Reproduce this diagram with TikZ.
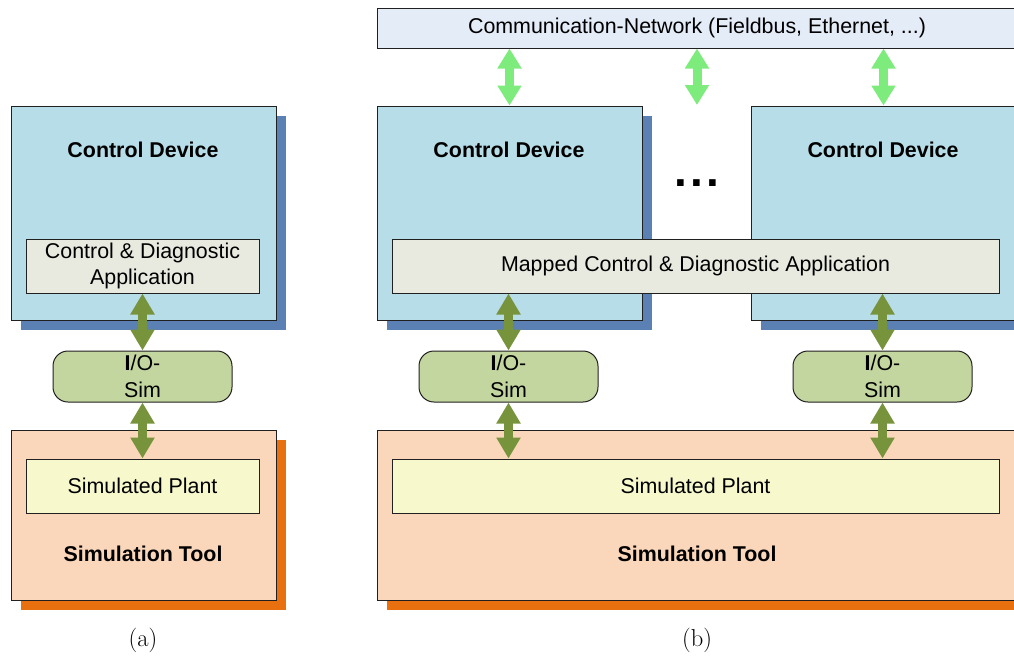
\documentclass[tikz,border=0pt]{standalone}
\usepackage{fontspec}
\setsansfont{Liberation Sans}
\usetikzlibrary{shadows,arrows.meta}

\definecolor{cdfill}{HTML}{B7DDE8}
\definecolor{cdshade}{HTML}{5A80B4}
\definecolor{appfill}{HTML}{E9EADF}
\definecolor{iofill}{HTML}{C4D6A0}
\definecolor{stfill}{HTML}{FAD6BA}
\definecolor{stshade}{HTML}{E8700E}
\definecolor{plantfill}{HTML}{F7F8CC}
\definecolor{netfill}{HTML}{E4ECF7}
\definecolor{olive}{HTML}{77933C}
\definecolor{lightgreen}{HTML}{7DEC7D}
\definecolor{edge}{HTML}{202020}

\tikzset{
  txt/.style={font=\sffamily\fontsize{21.4}{26.5}\selectfont, align=center},
  btxt/.style={font=\sffamily\bfseries\fontsize{21.4}{26.5}\selectfont, align=center},
  box/.style={draw=edge, line width=1pt, inner sep=0pt, rectangle},
  devicebox/.style={box, fill=cdfill,
    drop shadow={shadow xshift=10pt, shadow yshift=-10pt, fill=cdshade, opacity=1}},
  toolbox/.style={box, fill=stfill,
    drop shadow={shadow xshift=10pt, shadow yshift=-10pt, fill=stshade, opacity=1}},
  appbox/.style={box, fill=appfill, txt},
  plantbox/.style={box, fill=plantfill, txt},
  iobox/.style={box, fill=iofill, rounded corners=15pt, txt,
    minimum width=179pt, minimum height=51pt},
  netbox/.style={box, fill=netfill},
  link/.style={line width=9pt, draw=olive,
    {Triangle[width=23pt,length=21pt]}-{Triangle[width=23pt,length=21pt]}},
  netlink/.style={line width=9pt, draw=lightgreen,
    {Triangle[width=23pt,length=20pt]}-{Triangle[width=23pt,length=20pt]}},
  caption/.style={font=\rmfamily\fontsize{24.5}{28}\selectfont}
}

\begin{document}
\begin{tikzpicture}[x=1pt,y=-1pt]
\useasboundingbox (0,0) rectangle (1014,656);
\clip (0,0) rectangle (1014,656);

% ---------------- (a) single control device ----------------
\node[devicebox, minimum width=265pt, minimum height=214pt] (cdA) at (143.5,213) {};
\node[btxt] (cdAt) at (143,150) {Control Device};
\node[appbox, minimum width=233pt, minimum height=54pt] (appA) at (142.5,266)
  {Control \& Diagnostic\\Application};
\node[iobox] (ioA) at (142.5,376.5) {\textbf{I}/O-\\Sim};
\node[toolbox, minimum width=265pt, minimum height=170pt] (stA) at (143.5,515) {};
\node[plantbox, minimum width=233pt, minimum height=54pt] (plantA) at (142.5,486)
  {Simulated Plant};
\node[btxt] (stAt) at (143,554) {Simulation Tool};
\node[caption] (capA) at (143,640) {(a)};

\draw[link] (appA.south) -- (ioA.north);
\draw[link] (ioA.south) -- (plantA.north);

% ---------------- (b) networked control devices ----------------
\node[netbox, minimum width=640pt, minimum height=40pt] (net) at (697,28) {};
\node[txt] (nett) at (697,28) {Communication-Network (Fieldbus, Ethernet, ...)};

\node[devicebox, minimum width=265pt, minimum height=214pt] (cdB) at (509.5,213) {};
\node[btxt] (cdBt) at (509,150) {Control Device};
\node[devicebox, minimum width=265pt, minimum height=214pt] (cdC) at (883.5,213) {};
\node[btxt] (cdCt) at (883,150) {Control Device};
\node[font=\sffamily\bfseries\fontsize{46}{46}\selectfont] (dots) at (697,183)
  {.\kern3.2pt.\kern3.2pt.};

\node[appbox, minimum width=607pt, minimum height=54pt] (appB) at (695.5,266)
  {Mapped Control \& Diagnostic Application};

\node[iobox] (ioB) at (508.5,376.5) {\textbf{I}/O-\\Sim};
\node[iobox] (ioC) at (882.5,376.5) {\textbf{I}/O-\\Sim};

\node[toolbox, minimum width=640pt, minimum height=170pt] (stB) at (697,515) {};
\node[plantbox, minimum width=607pt, minimum height=54pt] (plantB) at (695.5,486)
  {Simulated Plant};
\node[btxt] (stBt) at (697,554) {Simulation Tool};
\node[caption] (capB) at (697,640) {(b)};

\coordinate (gapend) at (697,105);
\draw[netlink] (net.south -| cdB.north) -- (cdB.north);
\draw[netlink] (net.south -| gapend) -- (gapend);
\draw[netlink] (net.south -| cdC.north) -- (cdC.north);

\draw[link] (appB.south -| ioB.north) -- (ioB.north);
\draw[link] (ioB.south) -- (plantB.north -| ioB.south);
\draw[link] (appB.south -| ioC.north) -- (ioC.north);
\draw[link] (ioC.south) -- (plantB.north -| ioC.south);
\end{tikzpicture}
\end{document}
